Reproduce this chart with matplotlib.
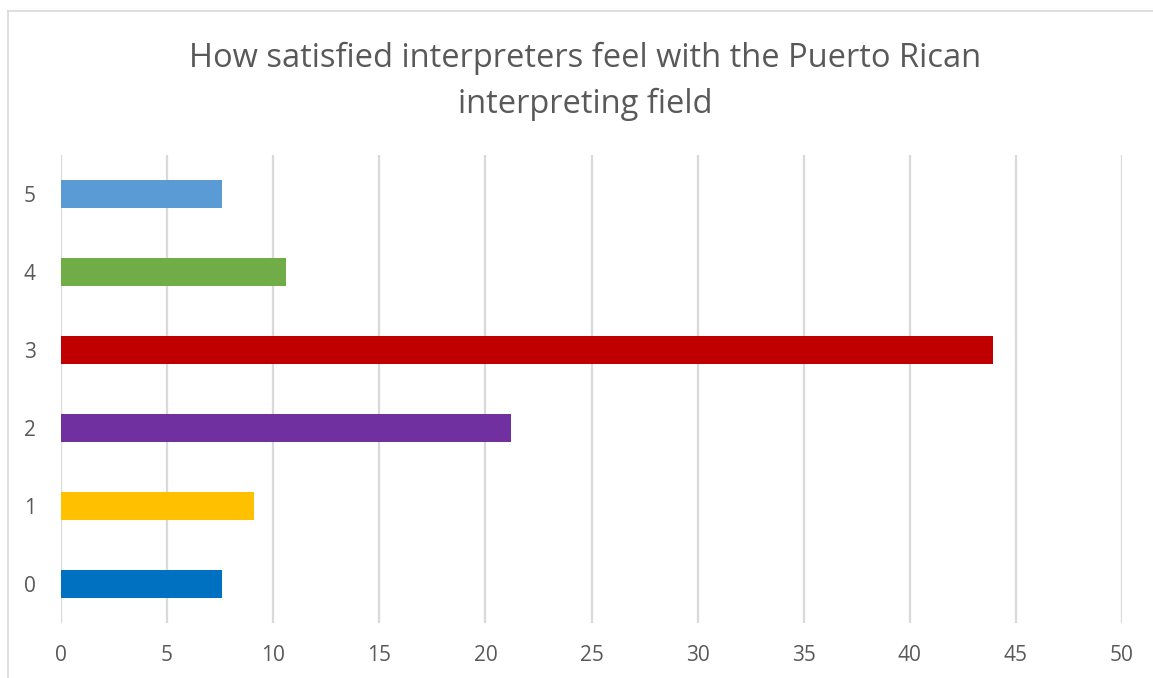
import matplotlib.pyplot as plt
from matplotlib.lines import Line2D

categories = ["0", "1", "2", "3", "4", "5"]
values = [7.58, 9.09, 21.21, 43.94, 10.61, 7.58]
colors = ["#0070C0", "#FFC000", "#7030A0", "#C00000", "#70AD47", "#5B9BD5"]
x_ticks = [0, 5, 10, 15, 20, 25, 30, 35, 40, 45, 50]

plt.rcParams['font.family'] = ['Open Sans', 'DejaVu Sans']
text_color = "#595959"
grid_color = "#D9D9D9"

fig = plt.figure(figsize=(11.53, 6.78), dpi=100)
ax = fig.add_axes([61/1153, 1 - 623/678, (1122 - 61)/1153, (623 - 155)/678])

ax.barh(range(len(categories)), values, height=0.35, color=colors, zorder=3)

ax.set_xlim(0, 50)
ax.set_ylim(-0.5, len(categories) - 0.5)
ax.set_xticks(x_ticks)
ax.set_yticks(range(len(categories)))
ax.set_yticklabels(categories)
ax.grid(axis='x', color=grid_color, linewidth=1.6, zorder=0)
ax.tick_params(length=0, labelsize=15, colors=text_color)
ax.tick_params(axis='x', pad=16)
ax.tick_params(axis='y', pad=18)
for s in ax.spines.values():
    s.set_visible(False)

fig.text(585/1153, 1 - 81/678, "How satisfied interpreters feel with the Puerto Rican\ninterpreting field",
         ha='center', va='center', fontsize=23.5, color=text_color, linespacing=1.5)

# chart frame (cut off at right and bottom)
fig.add_artist(Line2D([8/1153, 1], [1 - 11/678, 1 - 11/678], color=grid_color, lw=1.2))
fig.add_artist(Line2D([8/1153, 8/1153], [0, 1 - 11/678], color=grid_color, lw=1.2))

fig.savefig("out.png", dpi=100)
